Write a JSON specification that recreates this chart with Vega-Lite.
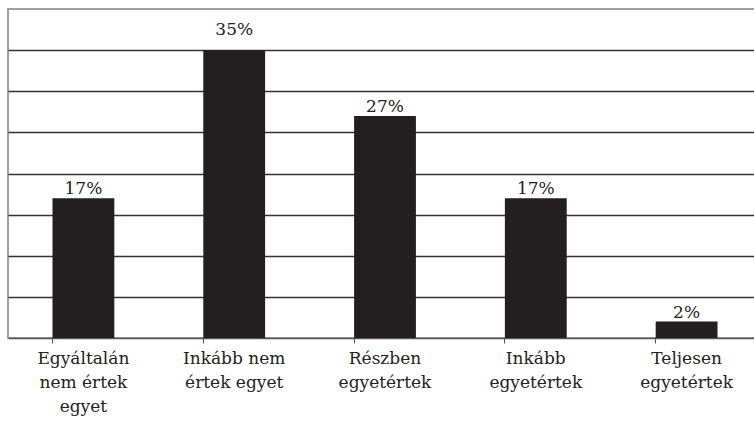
{
  "$schema": "https://vega.github.io/schema/vega-lite/v6.json",
  "width": 754,
  "height": 329,
  "autosize": {"type": "none"},
  "padding": {"left": 8, "top": 9, "right": 0, "bottom": 86},
  "background": "white",
  "config": {
    "view": {"stroke": "#a0a0a0", "strokeWidth": 2},
    "font": "DejaVu Serif"
  },
  "data": {
    "values": [
      {"category": "Egyáltalán\nnem értek\negyet", "value": 17, "label": "17%"},
      {"category": "Inkább nem\nértek egyet", "value": 35, "label": "35%"},
      {"category": "Részben\negyetértek", "value": 27, "label": "27%"},
      {"category": "Inkább\negyetértek", "value": 17, "label": "17%"},
      {"category": "Teljesen\negyetértek", "value": 2, "label": "2%"}
    ]
  },
  "encoding": {
    "x": {
      "field": "category",
      "type": "nominal",
      "sort": null,
      "scale": {"paddingInner": 0.59, "paddingOuter": 0.295},
      "axis": {
        "title": null,
        "labelAngle": 0,
        "labelExpr": "split(datum.label, '\\n')",
        "labelFont": "DejaVu Serif",
        "labelFontSize": 17,
        "labelColor": "#222222",
        "labelLineHeight": 24,
        "labelPadding": 7,
        "bandPosition": 0,
        "tickSize": 5,
        "tickColor": "#555555",
        "domainColor": "#555555",
        "domainWidth": 1.5,
        "grid": false
      }
    },
    "y": {
      "field": "value",
      "type": "quantitative",
      "scale": {"domain": [0, 40], "nice": false},
      "axis": {
        "title": null,
        "labels": false,
        "ticks": false,
        "domain": false,
        "grid": true,
        "values": [5, 10, 15, 20, 25, 30, 35],
        "gridColor": "#333333",
        "gridWidth": 1.5
      }
    }
  },
  "layer": [
    {"mark": {"type": "bar", "color": "#231f20"}},
    {
      "transform": [{"filter": "datum.value <= 30"}],
      "mark": {"type": "text", "baseline": "alphabetic", "dy": -4, "font": "DejaVu Serif", "fontSize": 17, "color": "#222222"},
      "encoding": {"text": {"field": "label"}}
    },
    {
      "transform": [{"filter": "datum.value > 30"}],
      "mark": {"type": "text", "baseline": "alphabetic", "dy": -15, "font": "DejaVu Serif", "fontSize": 17, "color": "#222222"},
      "encoding": {"text": {"field": "label"}}
    }
  ]
}
